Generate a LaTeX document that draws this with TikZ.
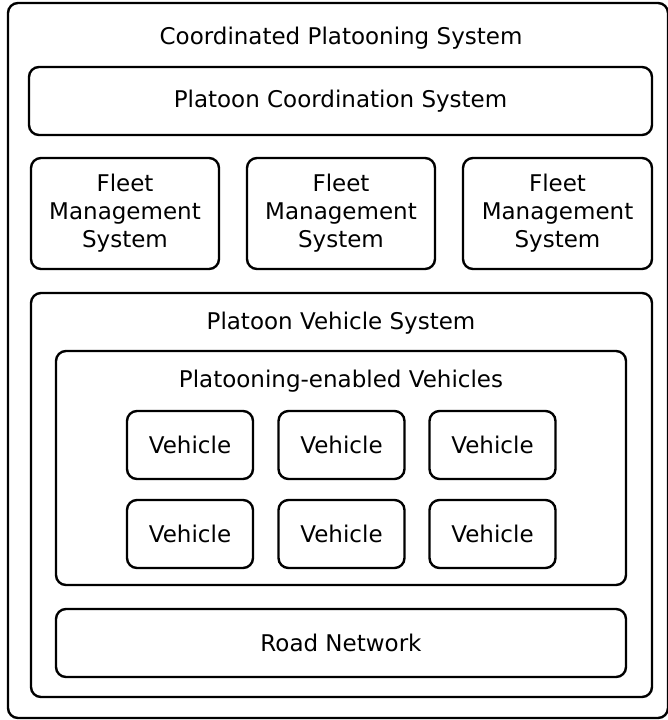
\documentclass[tikz,border=0pt]{standalone}
\usepackage{fontspec}
\setmainfont{DejaVu Sans}
\usepackage{tikz}
\usetikzlibrary{positioning}

\tikzset{
  sysbox/.style={draw, rounded corners=10pt, line width=2.4pt, inner sep=0pt},
  lbl/.style={font=\fontsize{23}{28}\selectfont, align=center, inner sep=0pt}
}

\begin{document}
\begin{tikzpicture}[x=1pt, y=-1pt]
\useasboundingbox (0,0) rectangle (668,720);

% outer system
\node[sysbox, minimum width=660pt, minimum height=715pt] (cps) at (338,360.5) {};
\node[lbl] (cpstitle) at (341,38) {Coordinated Platooning System};

\node[sysbox, lbl, minimum width=623pt, minimum height=68pt] (pcs) at (340.5,101) {Platoon Coordination System};

% fleet management
\node[sysbox, lbl, minimum width=188pt, minimum height=111pt] (fms1) at (125,213.5) {Fleet\\Management\\System};
\node[sysbox, lbl, minimum width=188pt, minimum height=111pt] (fms2) at (341,213.5) {Fleet\\Management\\System};
\node[sysbox, lbl, minimum width=189pt, minimum height=111pt] (fms3) at (557.5,213.5) {Fleet\\Management\\System};

% vehicle system
\node[sysbox, minimum width=621pt, minimum height=404pt] (pvs) at (341.5,495) {};
\node[lbl] (pvstitle) at (341,323) {Platoon Vehicle System};

\node[sysbox, minimum width=570pt, minimum height=234pt] (pev) at (341,468) {};
\node[lbl] (pevtitle) at (341,381) {Platooning-enabled Vehicles};

\foreach \c/\x in {1/190,2/341.5,3/492.5}{
  \node[sysbox, lbl, minimum width=126pt, minimum height=68pt] (veh1\c) at (\x,445) {Vehicle};
  \node[sysbox, lbl, minimum width=126pt, minimum height=68pt] (veh2\c) at (\x,534) {Vehicle};
}

\node[sysbox, lbl, minimum width=570pt, minimum height=68pt] (road) at (341,643) {Road Network};
\end{tikzpicture}
\end{document}
